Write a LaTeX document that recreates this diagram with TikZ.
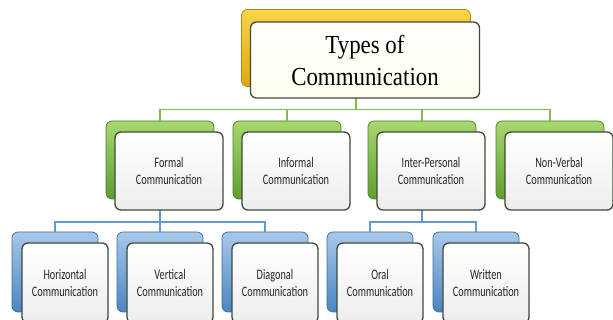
\documentclass[tikz,border=0pt]{standalone}
\usepackage{fontspec}
\setmainfont{Carlito}
\newfontfamily\titlefont{Liberation Serif}
\usetikzlibrary{positioning,calc}

\definecolor{goldtop}{HTML}{F8D548}
\definecolor{goldbot}{HTML}{E0A810}
\definecolor{greentop}{HTML}{A6D86E}
\definecolor{greenbot}{HTML}{5E9E2E}
\definecolor{bluetop}{HTML}{A8C8EA}
\definecolor{bluebot}{HTML}{4A86C2}
\definecolor{rimdark}{HTML}{3E4A3A}
\definecolor{glink}{HTML}{84BA50}
\definecolor{blink}{HTML}{6399CC}

\newcommand\narrow[1]{\scalebox{0.71}[1]{#1}}

\tikzset{
  back/.style={rounded corners=6pt, draw=#1bot!80!black, line width=0.7pt,
    top color=#1top, bottom color=#1bot, outer sep=0pt},
  front/.style={rounded corners=6pt, draw=rimdark, line width=1.3pt,
    top color=white, bottom color=black!7, align=center, outer sep=0pt,
    text=black!85, font=\fontsize{14.5}{16.5}\selectfont},
  midbox/.style={minimum width=108pt, minimum height=78pt},
  lowbox/.style={minimum width=86pt, minimum height=80pt},
  glinkline/.style={draw=glink, line width=1.6pt},
  blinkline/.style={draw=blink, line width=1.6pt},
}

\begin{document}
\begin{tikzpicture}[x=1pt, y=-1pt]
  \useasboundingbox (0,0) rectangle (613,320);
  \clip (0,0) rectangle (613,320);

  % shadow boxes behind the cards
  \node[back=gold, minimum width=229pt, minimum height=77pt] (typesb) at (356,48) {};
  \node[back=green, midbox] (formalb) at (160,160) {};
  \node[back=green, midbox] (informalb) at (287,160) {};
  \node[back=green, midbox] (interb) at (422,160) {};
  \node[back=green, midbox] (nonverbalb) at (550,160) {};
  \node[back=blue, lowbox] (horizb) at (55,272) {};
  \node[back=blue, lowbox, right=19pt of horizb] (vertb) {};
  \node[back=blue, lowbox, right=19pt of vertb] (diagb) {};
  \node[back=blue, lowbox] (oralb) at (370,272) {};
  \node[back=blue, lowbox, right=20pt of oralb] (writtenb) {};

  % connectors
  \foreach \c in {formalb,informalb,interb,nonverbalb}
    \draw[glinkline] (typesb.south) -- ++(0,23) -| (\c.north);
  \foreach \c in {horizb,vertb,diagb}
    \draw[blinkline] (formalb.south) -- ++(0,23) -| (\c.north);
  \foreach \c in {oralb,writtenb}
    \draw[blinkline] (interb.south) -- ++(0,23) -| (\c.north);

  % cards
  \node[front, top color=white, bottom color=yellow!6, minimum width=229pt, minimum height=76pt,
    text=black, font=\titlefont\fontsize{26}{32}\selectfont] (types) at ($(typesb)+(9,12)$)
    {\scalebox{0.88}[1]{Types of}\\\scalebox{0.88}[1]{Communication}};
  \node[front, midbox] (formal) at ($(formalb)+(9,11)$)
    {\narrow{Formal}\\\narrow{Communication}};
  \node[front, midbox] (informal) at ($(informalb)+(9,11)$)
    {\narrow{Informal}\\\narrow{Communication}};
  \node[front, midbox] (inter) at ($(interb)+(9,11)$)
    {\narrow{Inter-Personal}\\\narrow{Communication}};
  \node[front, midbox] (nonverbal) at ($(nonverbalb)+(9,11)$)
    {\narrow{Non-Verbal}\\\narrow{Communication}};
  \node[front, lowbox] (horiz) at ($(horizb)+(10,11)$)
    {\narrow{Horizontal}\\\narrow{Communication}};
  \node[front, lowbox] (vert) at ($(vertb)+(10,11)$)
    {\narrow{Vertical}\\\narrow{Communication}};
  \node[front, lowbox] (diag) at ($(diagb)+(10,11)$)
    {\narrow{Diagonal}\\\narrow{Communication}};
  \node[front, lowbox] (oral) at ($(oralb)+(10,11)$)
    {\narrow{Oral}\\\narrow{Communication}};
  \node[front, lowbox] (written) at ($(writtenb)+(10,11)$)
    {\narrow{Written}\\\narrow{Communication}};
\end{tikzpicture}
\end{document}
